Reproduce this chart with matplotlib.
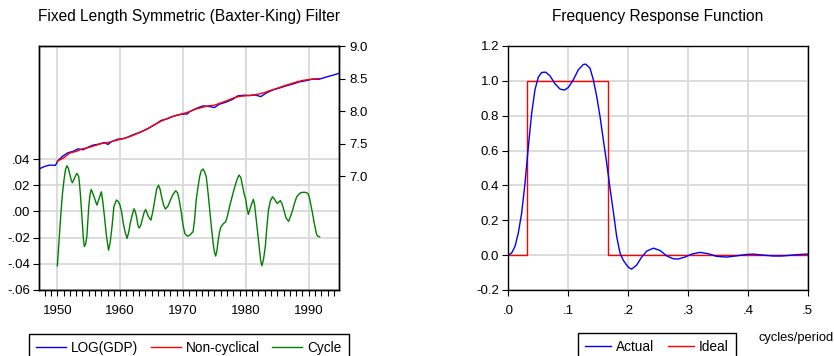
import matplotlib
matplotlib.use("Agg")
import matplotlib.pyplot as plt
from matplotlib.lines import Line2D
from matplotlib.ticker import MultipleLocator

plt.rcParams['font.family'] = ['Liberation Sans', 'DejaVu Sans']

# ---------------- data: left panel ----------------
gdp_year = [1947.08, 1948.0, 1948.8, 1949.7, 1950.1, 1950.9, 1951.7, 1952.5, 1953.3, 1954.1,
            1954.9, 1955.7, 1956.5, 1957.5, 1958.05, 1958.6, 1959.6, 1960.7, 1961.2, 1962.3,
            1963.3, 1964.4, 1965.5, 1966.5, 1967.6, 1968.6, 1969.7, 1970.7, 1971.06, 1972.1,
            1973.2, 1974.2, 1975.0, 1975.8, 1976.8, 1977.9, 1978.7, 1979.8, 1980.6, 1981.4,
            1982.4, 1983.2, 1984.3, 1985.4, 1986.4, 1987.5, 1988.5, 1989.6, 1990.6, 1991.7,
            1992.7, 1993.8, 1994.83]
log_gdp = [7.11, 7.15, 7.17, 7.165, 7.24, 7.31, 7.36, 7.38, 7.42, 7.405,
           7.446, 7.477, 7.49, 7.517, 7.486, 7.53, 7.567, 7.58, 7.60, 7.645,
           7.68, 7.73, 7.79, 7.855, 7.885, 7.926, 7.95, 7.957, 7.99, 8.04,
           8.08, 8.07, 8.054, 8.106, 8.136, 8.18, 8.233, 8.244, 8.238, 8.248,
           8.223, 8.275, 8.325, 8.356, 8.387, 8.417, 8.448, 8.468, 8.49, 8.49,
           8.52, 8.55, 8.58]

trend_year = [1950.0, 1951, 1952, 1953, 1954, 1955, 1956, 1957, 1958, 1959, 1960, 1961, 1962,
              1963, 1964, 1965, 1966, 1967, 1968, 1969, 1970, 1971, 1972, 1973, 1974, 1975,
              1976, 1977, 1978, 1979, 1980, 1981, 1982, 1983, 1984, 1985, 1986, 1987, 1988,
              1989, 1990, 1991, 1991.75]
non_cyclical = [7.23, 7.28, 7.355, 7.38, 7.42, 7.44, 7.47, 7.50, 7.515, 7.54, 7.565, 7.59, 7.625,
                7.665, 7.71, 7.765, 7.82, 7.865, 7.905, 7.935, 7.96, 7.99, 8.03, 8.055, 8.08, 8.09,
                8.125, 8.16, 8.20, 8.225, 8.235, 8.245, 8.26, 8.285, 8.32, 8.35, 8.385, 8.415, 8.445,
                8.47, 8.485, 8.495, 8.50]

cycle_year = [1950.0, 1950.25, 1950.53, 1950.8, 1951.06, 1951.3, 1951.53, 1951.75, 1951.96, 1952.2,
              1952.38, 1952.7, 1953.07, 1953.25, 1953.4, 1953.55, 1953.7, 1953.85, 1954.0, 1954.15,
              1954.3, 1954.5, 1954.7, 1954.85, 1955.0, 1955.2, 1955.4, 1955.85, 1956.3, 1956.65,
              1957.0, 1957.25, 1957.5, 1957.8, 1958.15, 1958.4, 1958.7, 1959.0, 1959.4, 1959.7,
              1959.97, 1960.25, 1960.5, 1960.8, 1961.1, 1961.35, 1961.6, 1961.9, 1962.2, 1962.4,
              1962.6, 1962.8, 1963.0, 1963.25, 1963.5, 1963.8, 1964.05, 1964.5, 1964.9, 1965.2,
              1965.5, 1965.8, 1966.1, 1966.35, 1966.6, 1966.9, 1967.2, 1967.6, 1968.0, 1968.4,
              1968.85, 1969.15, 1969.4, 1969.7, 1970.0, 1970.3, 1970.7, 1971.1, 1971.6, 1971.85,
              1972.1, 1972.4, 1972.65, 1972.9, 1973.2, 1973.45, 1973.7, 1973.95, 1974.2, 1974.5,
              1974.8, 1975.0, 1975.2, 1975.4, 1975.6, 1975.8, 1976.0, 1976.4, 1976.8, 1977.1,
              1977.4, 1977.75, 1978.1, 1978.5, 1978.9, 1979.2, 1979.5, 1979.75, 1980.0, 1980.2,
              1980.4, 1980.8, 1981.2, 1981.4, 1981.6, 1981.85, 1982.1, 1982.35, 1982.55, 1982.8,
              1983.1, 1983.35, 1983.6, 1983.9, 1984.25, 1984.6, 1985.0, 1985.5, 1985.75, 1986.06,
              1986.4, 1986.8, 1987.1, 1987.45, 1987.8, 1988.1, 1988.7, 1989.2, 1989.6, 1989.95,
              1990.15, 1990.3, 1990.6, 1990.85, 1991.1, 1991.3, 1991.5, 1991.75]
cycle = [-0.0415, -0.024, -0.004, 0.013, 0.024, 0.032, 0.0349, 0.033, 0.029, 0.024,
         0.0219, 0.025, 0.029, 0.028, 0.0265, 0.020, 0.011, 0.0, -0.0117, -0.021,
         -0.0268, -0.025, -0.019, -0.008, 0.0036, 0.013, 0.0168, 0.011, 0.0048, 0.010,
         0.015, 0.007, -0.004, -0.018, -0.0296, -0.024, -0.0117, 0.0036, 0.0087, 0.0075,
         0.0048, -0.001, -0.0092, -0.016, -0.0206, -0.016, -0.0092, -0.003, 0.002, 0.0,
         -0.004, -0.010, -0.0127, -0.011, -0.0066, -0.001, 0.0015, -0.004, -0.0066, 0.0,
         0.0087, 0.017, 0.020, 0.017, 0.011, 0.005, 0.0018, 0.004, 0.0087, 0.013,
         0.0158, 0.014, 0.0087, 0.0, -0.0104, -0.017, -0.0189, -0.018, -0.0155, -0.006,
         0.0087, 0.019, 0.0265, 0.031, 0.0324, 0.030, 0.0265, 0.016, 0.0036, -0.011,
         -0.0245, -0.031, -0.0341, -0.030, -0.022, -0.016, -0.0122, -0.0095, -0.0079, -0.003,
         0.0036, 0.010, 0.0163, 0.023, 0.0278, 0.026, 0.0189, 0.013, 0.0087, 0.002,
         -0.0023, 0.004, 0.0092, 0.005, -0.004, -0.015, -0.027, -0.037, -0.0415, -0.037,
         -0.027, -0.012, 0.001, 0.008, 0.0112, 0.009, 0.0061, 0.0082, 0.006, 0.001,
         -0.005, -0.0076, -0.004, 0.001, 0.007, 0.0112, 0.0143, 0.0146, 0.0145, 0.0132,
         0.010, 0.0061, -0.001, -0.0079, -0.014, -0.0181, -0.019, -0.0194]

left_yticks = [-0.06, -0.04, -0.02, 0.00, 0.02, 0.04]
left_yticklabels = ['-.06', '-.04', '-.02', '.00', '.02', '.04']
right_yticks = [7.0, 7.5, 8.0, 8.5, 9.0]
right_yticklabels = ['7.0', '7.5', '8.0', '8.5', '9.0']
year_ticks = [1950, 1960, 1970, 1980, 1990]
year_ticklabels = ['1950', '1960', '1970', '1980', '1990']

# ---------------- data: right panel ----------------
freq = [0.0, 0.0061, 0.0117, 0.0172, 0.0228, 0.0284, 0.034, 0.0395, 0.045, 0.0506,
        0.0562, 0.0628, 0.070, 0.0784, 0.0868, 0.094, 0.1007, 0.109, 0.1174, 0.1257,
        0.1296, 0.1368, 0.1424, 0.148, 0.1535, 0.159, 0.1647, 0.1702, 0.1757, 0.1813,
        0.1869, 0.1924, 0.2008, 0.2063, 0.2147, 0.223, 0.2314, 0.2425, 0.2536, 0.2647,
        0.2758, 0.2842, 0.2953, 0.3064, 0.3203, 0.3342, 0.3482, 0.3649, 0.3815, 0.3982,
        0.4093, 0.426, 0.4426, 0.4566, 0.4733, 0.4872, 0.5]
actual = [0.0, 0.012, 0.05, 0.127, 0.241, 0.414, 0.624, 0.815, 0.949, 1.022,
          1.048, 1.05, 1.029, 0.983, 0.953, 0.947, 0.962, 1.006, 1.064, 1.094,
          1.096, 1.073, 1.006, 0.911, 0.796, 0.662, 0.528, 0.385, 0.25, 0.107,
          0.012, -0.03, -0.07, -0.08, -0.057, -0.011, 0.023, 0.04, 0.027, -0.004,
          -0.021, -0.022, -0.011, 0.006, 0.016, 0.008, -0.007, -0.011, -0.004, 0.004,
          0.006, 0.0, -0.005, -0.005, 0.0, 0.004, 0.006]
ideal_freq = [0.0, 0.03125, 0.03125, 0.1667, 0.1667, 0.5]
ideal = [0.0, 0.0, 1.0, 1.0, 0.0, 0.0]

freq_ticks = [0.0, 0.1, 0.2, 0.3, 0.4, 0.5]
freq_ticklabels = ['.0', '.1', '.2', '.3', '.4', '.5']
resp_ticks = [-0.2, 0.0, 0.2, 0.4, 0.6, 0.8, 1.0, 1.2]
resp_ticklabels = ['-0.2', '0.0', '0.2', '0.4', '0.6', '0.8', '1.0', '1.2']

# ---------------- figure ----------------
W, H = 834, 356
fig = plt.figure(figsize=(W / 100, H / 100), dpi=100)

GRID = '#d9d9d9'
BLUE = '#0000ff'
RED = '#ff0000'
GREEN = '#008000'
TICK_FS = 9.5


def style_axes(ax):
    for s in ax.spines.values():
        s.set_color('black')
        s.set_linewidth(1.0)


# left panel
ax1 = fig.add_axes([39 / W, 66 / H, 300 / W, 244 / H])
ax1.plot(cycle_year, cycle, color=GREEN, lw=1.0)
ax1.set_xlim(1947.08, 1994.83)
ax1.set_ylim(-0.06, 0.1263)
ax1.set_yticks(left_yticks)
ax1.set_yticklabels(left_yticklabels)
ax1.set_xticks(year_ticks)
ax1.set_xticklabels(year_ticklabels)
ax1.xaxis.set_minor_locator(MultipleLocator(1))
ax1.grid(True, which='major', color=GRID, lw=1.3)
ax1.set_axisbelow(True)
ax1.tick_params(axis='both', which='both', direction='out', length=4.5, width=0.8,
                labelsize=TICK_FS, pad=2)
ax1.tick_params(axis='x', which='major', pad=6)
style_axes(ax1)

ax2 = ax1.twinx()
ax2.plot(gdp_year, log_gdp, color=BLUE, lw=1.0)
ax2.plot(trend_year, non_cyclical, color=RED, lw=1.0)
ax2.set_ylim(5.25, 9.0)
ax2.set_yticks(right_yticks)
ax2.set_yticklabels(right_yticklabels)
ax2.tick_params(axis='y', direction='out', length=4.5, width=0.8, labelsize=TICK_FS, pad=3)
style_axes(ax2)

fig.text(189 / W, 1 - 16 / H, 'Fixed Length Symmetric (Baxter-King) Filter',
         ha='center', va='center', fontsize=11.2)

leg1_handles = [Line2D([], [], color=BLUE, lw=1.0),
                Line2D([], [], color=RED, lw=1.0),
                Line2D([], [], color=GREEN, lw=1.0)]
leg1 = fig.legend(leg1_handles, ['LOG(GDP)', 'Non-cyclical', 'Cycle'],
                  loc='upper left', bbox_to_anchor=(29 / W, 1 - 334 / H),
                  ncol=3, fontsize=9.8, frameon=True, fancybox=False, edgecolor='black',
                  framealpha=1, borderaxespad=0, handlelength=2.2, handletextpad=0.4,
                  columnspacing=0.9, borderpad=0.5)
leg1.get_frame().set_linewidth(1.0)

# right panel
ax3 = fig.add_axes([508 / W, 66 / H, 299.7 / W, 244 / H])
ax3.plot(ideal_freq, ideal, color=RED, lw=1.0)
ax3.plot(freq, actual, color=BLUE, lw=1.0)
ax3.set_xlim(0.0, 0.5)
ax3.set_ylim(-0.2, 1.2)
ax3.set_xticks(freq_ticks)
ax3.set_xticklabels(freq_ticklabels)
ax3.set_yticks(resp_ticks)
ax3.set_yticklabels(resp_ticklabels)
ax3.grid(True, color=GRID, lw=1.3)
ax3.set_axisbelow(True)
ax3.tick_params(axis='both', direction='out', length=4.5, width=0.8, labelsize=TICK_FS, pad=2)
ax3.tick_params(axis='x', pad=6)
style_axes(ax3)

fig.text(658 / W, 1 - 16 / H, 'Frequency Response Function',
         ha='center', va='center', fontsize=11.2)

leg2_handles = [Line2D([], [], color=BLUE, lw=1.0),
                Line2D([], [], color=RED, lw=1.0)]
leg2 = fig.legend(leg2_handles, ['Actual', 'Ideal'],
                  loc='upper left', bbox_to_anchor=(578 / W, 1 - 333 / H),
                  ncol=2, fontsize=9.8, frameon=True, fancybox=False, edgecolor='black',
                  framealpha=1, borderaxespad=0, handlelength=1.9, handletextpad=0.4,
                  columnspacing=1.0, borderpad=0.5)
leg2.get_frame().set_linewidth(1.0)

fig.text(758.5 / W, 1 - 338 / H, 'cycles/period', ha='left', va='center', fontsize=9.3)

fig.savefig('out.png', dpi=100)
